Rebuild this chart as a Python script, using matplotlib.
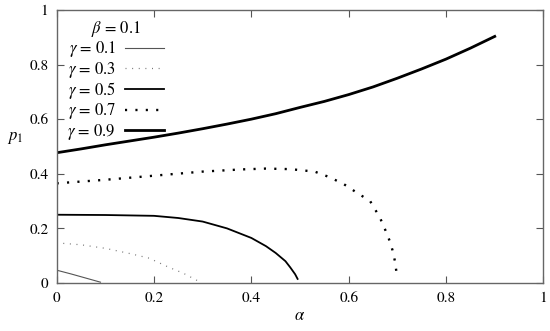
import matplotlib
matplotlib.use('Agg')
import matplotlib.pyplot as plt

plt.rcParams['font.family'] = ['STIXGeneral', 'DejaVu Serif']
plt.rcParams['mathtext.fontset'] = 'stix'

# values
alpha_01 = [0.0, 0.03, 0.06, 0.09]
p1_01 = [0.047, 0.033, 0.018, 0.003]

alpha_03 = [0.0, 0.05, 0.1, 0.15, 0.19, 0.23, 0.26, 0.29]
p1_03 = [0.147, 0.140, 0.127, 0.108, 0.091, 0.058, 0.036, 0.008]

alpha_05 = [0.0, 0.1, 0.2, 0.25, 0.3, 0.35, 0.4, 0.43, 0.45, 0.47, 0.48, 0.49, 0.495]
p1_05 = [0.250, 0.249, 0.246, 0.238, 0.225, 0.200, 0.165, 0.135, 0.110, 0.080, 0.057, 0.032, 0.015]

alpha_07 = [0.0, 0.1, 0.2, 0.3, 0.38, 0.43, 0.48, 0.53, 0.56, 0.59, 0.62, 0.644, 0.664,
            0.675, 0.684, 0.69, 0.695, 0.699]
p1_07 = [0.365, 0.378, 0.393, 0.408, 0.416, 0.419, 0.417, 0.408, 0.388, 0.362, 0.327, 0.300,
         0.240, 0.195, 0.155, 0.120, 0.080, 0.028]

alpha_09 = [0.0, 0.05, 0.1, 0.15, 0.2, 0.25, 0.3, 0.35, 0.4, 0.45, 0.5, 0.55, 0.6, 0.65,
            0.7, 0.75, 0.8, 0.85, 0.9]
p1_09 = [0.477, 0.491, 0.506, 0.520, 0.534, 0.549, 0.565, 0.582, 0.600, 0.620, 0.643, 0.665,
         0.690, 0.718, 0.750, 0.784, 0.820, 0.860, 0.903]

gamma_labels = ['0.1', '0.3', '0.5', '0.7', '0.9']
beta = '0.1'

ticks = [0, 0.2, 0.4, 0.6, 0.8, 1]
tick_labels = ['0', '0.2', '0.4', '0.6', '0.8', '1']

fig = plt.figure(figsize=(5.5, 3.31), dpi=100)
ax = fig.add_axes([0.103, 0.145, 0.885, 0.825])

styles = [
    dict(color='#555555', lw=0.8),
    dict(color='#777777', lw=0.9, ls=(0, (0.8, 4.5))),
    dict(color='black', lw=1.3),
    dict(color='black', lw=1.7, ls=(0, (0.9, 3.5))),
    dict(color='black', lw=2.0),
]
series = [(alpha_01, p1_01), (alpha_03, p1_03), (alpha_05, p1_05),
          (alpha_07, p1_07), (alpha_09, p1_09)]
for (a, p), st, g in zip(series, styles, gamma_labels):
    ax.plot(a, p, label=r'$\gamma$ = ' + g, **st)

ax.set_xlim(0, 1)
ax.set_ylim(0, 1)
ax.set_xticks(ticks)
ax.set_xticklabels(tick_labels)
ax.set_yticks(ticks)
ax.set_yticklabels(tick_labels)
ax.tick_params(direction='in', length=5, width=0.8, top=True, right=True,
               labelsize=11, color='#555555', pad=6)
for s in ax.spines.values():
    s.set_color('#666666')
    s.set_linewidth(1.0)

ax.set_xlabel(r'$\alpha$', fontsize=12, labelpad=2)
ax.set_ylabel(r'$p_1$', fontsize=12, rotation=0)
ax.yaxis.set_label_coords(-0.085, 0.5)

leg = ax.legend(loc='upper left', title=r'$\beta$ = ' + beta, frameon=False, markerfirst=False,
                fontsize=12, title_fontsize=12, handlelength=2.3, handletextpad=0.55,
                labelspacing=0.02, borderaxespad=0.0, borderpad=0.3,
                bbox_to_anchor=(0.012, 0.985))

fig.savefig('out.png', dpi=100)
